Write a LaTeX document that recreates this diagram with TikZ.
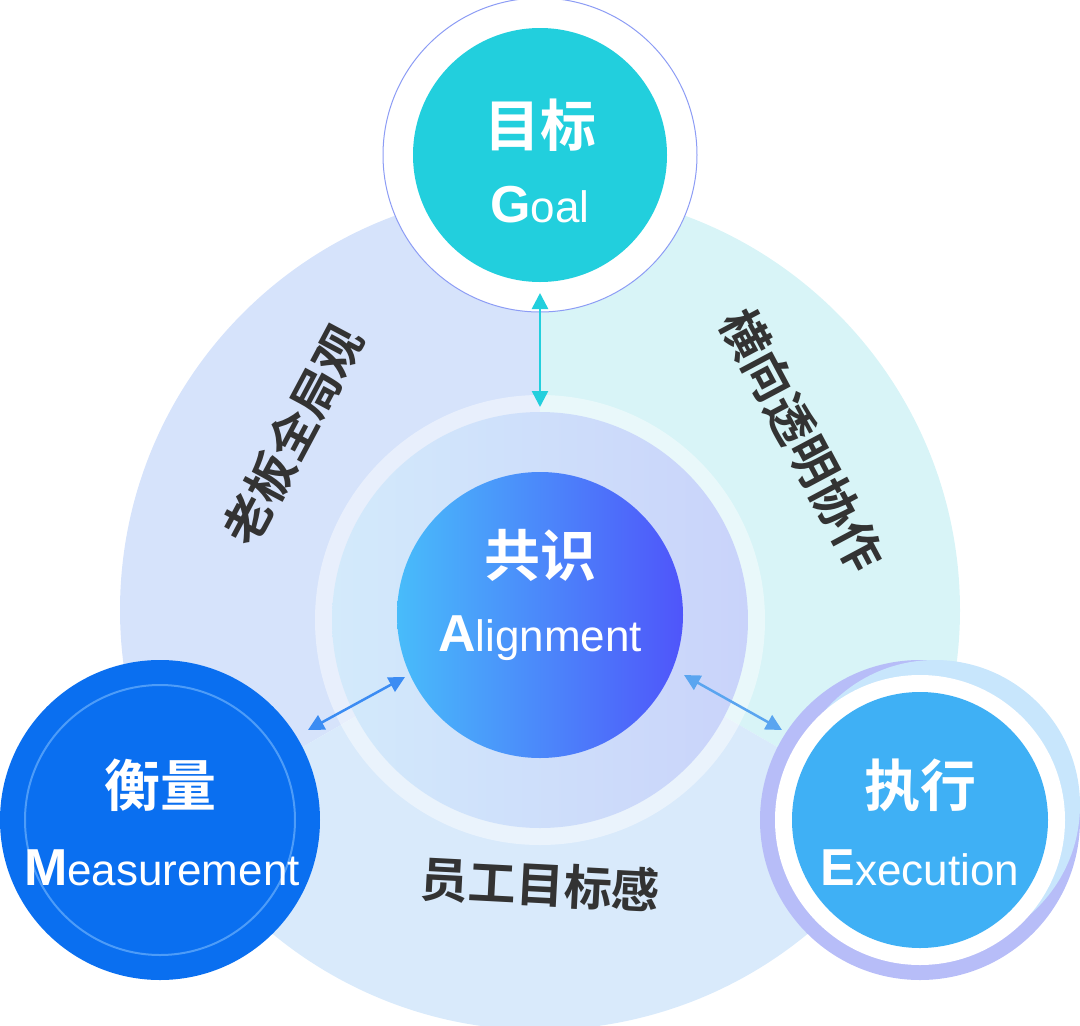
\documentclass[tikz,border=0pt]{standalone}
\usepackage{fontspec}
\setmainfont{Liberation Sans}
\newfontfamily\cjk{Noto Sans CJK SC Bold}
\usetikzlibrary{arrows.meta}
\definecolor{secA}{HTML}{D6E3FB}
\definecolor{secB}{HTML}{D8F4F7}
\definecolor{secC}{HTML}{D9EAFB}
\definecolor{teal}{HTML}{22CFDD}
\definecolor{mblue}{HTML}{0A6FF0}
\definecolor{eblue}{HTML}{3FB0F5}
\definecolor{txt}{HTML}{333333}
\definecolor{cl}{HTML}{48BCFA}
\definecolor{cr}{HTML}{4F55FA}
\definecolor{gring}{HTML}{8C9CF5}
\definecolor{mring}{HTML}{4D9CF8}
\definecolor{ering}{HTML}{B7BDF8}
\definecolor{ering2}{HTML}{C8E6FC}
\definecolor{earr}{HTML}{5AA5F0}
\definecolor{inL}{HTML}{D3EAFB}
\definecolor{inR}{HTML}{C9D3FA}
\begin{document}
\begin{tikzpicture}[x=1pt,y=-1pt,
  lab/.style={font=\cjk\fontsize{48}{54}\selectfont, text=txt},
  big/.style={font=\cjk\fontsize{56}{60}\selectfont, text=white},
  eng/.style={font=\fontsize{44}{48}\selectfont, text=white},
  dbl/.style={{Triangle[length=16pt,width=16pt]}-{Triangle[length=16pt,width=16pt]}, line width=2.5pt}]
\useasboundingbox (0,0) rectangle (1080,1026);
\coordinate (c) at (540,610);
\fill[secA] (c) -- ++(0,-420) arc[start angle=270,end angle=150,radius=420] -- cycle;
\fill[secB] (c) -- ++(0,-420) arc[start angle=-90,end angle=30,radius=420] -- cycle;
\fill[secC] (c) -- ++(30:420) arc[start angle=30,end angle=150,radius=420] -- cycle;
\fill[white,opacity=0.45] (540,620) circle[radius=225];
\shade[left color=inL, right color=inR] (540,620) circle[radius=208];
% centre
\shade[left color=cl, right color=cr] (540,615) circle[radius=143];
\node[big] (al) at (540,555) {共识};
\node[eng] (alE) at (540,638) {\textbf{\fontsize{52}{54}\selectfont A}lignment};
% goal
\fill[white] (540,155) circle[radius=157];
\draw[gring,line width=1pt] (540,155) circle[radius=157];
\fill[teal] (540,155) circle[radius=127];
\node[big] (g) at (540,125) {目标};
\node[eng] (gE) at (540,205) {\textbf{\fontsize{52}{54}\selectfont G}oal};
% measurement
\fill[mblue] (160,820) circle[radius=160];
\draw[mring,line width=2pt] (160,820) circle[radius=135];
\node[big] (m) at (160,785) {衡量};
\node[eng] (mE) at (162,868) {\textbf{\fontsize{52}{54}\selectfont M}easurement};
% execution
\fill[ering] (920,820) circle[radius=160];
\fill[ering2] (935,805) circle[radius=145];
\fill[white] (920,820) circle[radius=145];
\fill[eblue] (920,820) circle[radius=128];
\node[big] (e) at (920,785) {执行};
\node[eng] (eE) at (920,868) {\textbf{\fontsize{52}{54}\selectfont E}xecution};
% arrows
\coordinate (a1) at (540,293); \coordinate (a2) at (540,407);
\draw[dbl,teal] (a1) -- (a2);
\coordinate (b1) at (308,730); \coordinate (b2) at (405,677);
\draw[dbl,mblue!80] (b1) -- (b2);
\coordinate (d1) at (684,675); \coordinate (d2) at (782,730);
\draw[dbl,earr] (d1) -- (d2);
% labels
\node[lab,rotate=62] (l1) at (293,435) {老板全局观};
\node[lab,rotate=-62] (l2) at (802,440) {横向透明协作};
\node[lab,rotate=-3] (l3) at (540,885) {员工目标感};
\end{tikzpicture}
\end{document}
